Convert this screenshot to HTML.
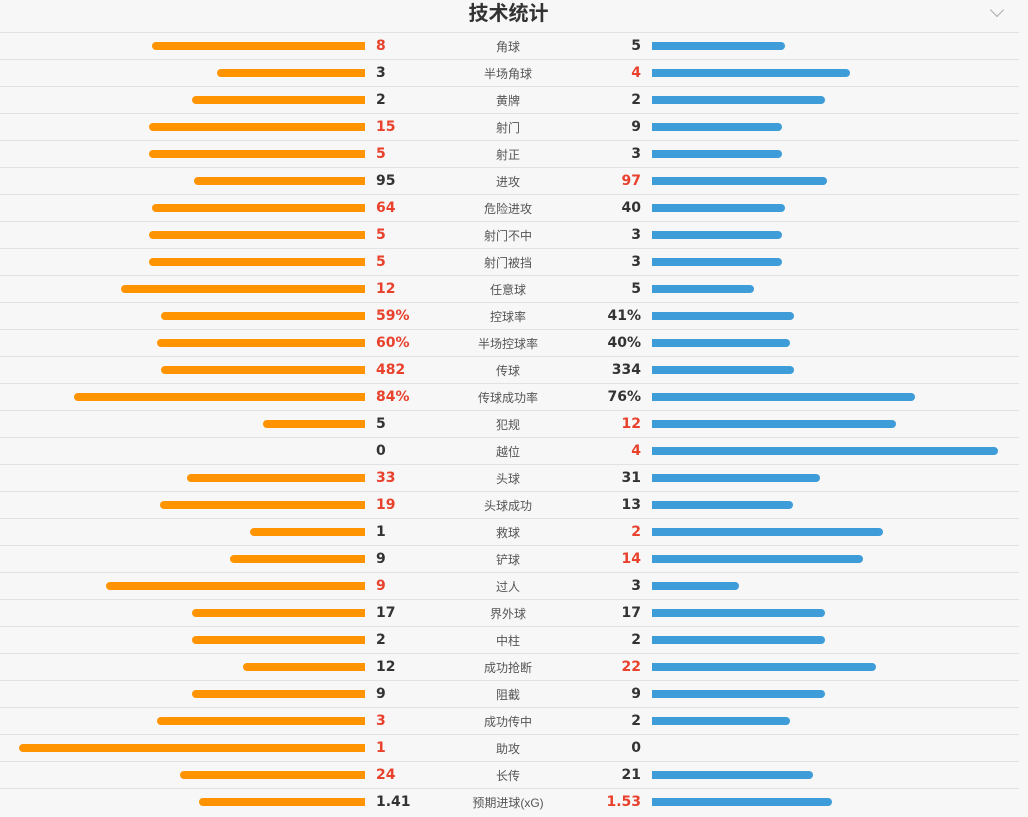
<!DOCTYPE html>
<html><head><meta charset="utf-8"><style>
body{margin:0;width:1028px;height:817px;background:#f7f7f7;font-family:"Liberation Sans","Noto Sans CJK SC",sans-serif;overflow:hidden;position:relative}
#title{position:absolute;left:0;width:1017px;top:0;height:32px;line-height:28px;text-align:center;font-size:20px;font-weight:bold;color:#333}
#chev{position:absolute;left:992px;top:5px;width:9px;height:9px;border-right:1px solid #aaa;border-bottom:1px solid #aaa;transform:rotate(45deg)}
.row{position:absolute;left:0;width:1019px;height:27px;border-top:1px solid #e2e2e2;box-sizing:border-box}
.bl{position:absolute;top:9px;height:8px;background:#ff9400;border-radius:4px 0 0 4px}
.br{position:absolute;top:9px;height:8px;background:#3e9cd8;border-radius:0 4px 4px 0}
.nl{position:absolute;left:376px;top:5px;font-family:"DejaVu Sans",sans-serif;font-size:14px;font-weight:bold;color:#333}
.nr{position:absolute;right:378px;top:5px;font-family:"DejaVu Sans",sans-serif;font-size:14px;font-weight:bold;color:#333;text-align:right}
.lb{position:absolute;left:428px;width:160px;text-align:center;top:5px;font-size:12px;color:#555}
.red{color:#e8412c}
</style></head><body>
<div id="title">技术统计</div>
<div id="chev"></div>
<div id="rows"></div>
<script>
const labels=["角球","半场角球","黄牌","射门","射正","进攻","危险进攻","射门不中","射门被挡","任意球","控球率","半场控球率","传球","传球成功率","犯规","越位","头球","头球成功","救球","铲球","过人","界外球","中柱","成功抢断","阻截","成功传中","助攻","长传","预期进球(xG)"];
const homeVals=[8,3,2,15,5,95,64,5,5,12,59,60,482,84,5,0,33,19,1,9,9,17,2,12,9,3,1,24,1.41];
const awayVals=[5,4,2,9,3,97,40,3,3,5,41,40,334,76,12,4,31,13,2,14,3,17,2,22,9,2,0,21,1.53];
const pctRows=[10,11,13];
const container=document.getElementById('rows');
const MAX=346, MID_L=365, MID_R=652;
labels.forEach((lab,i)=>{
  const h=homeVals[i],a=awayVals[i],tot=h+a;
  const isPct=pctRows.includes(i);
  const fmt=v=>(isPct?v+'%':String(v));
  const row=document.createElement('div');row.className='row';row.style.top=(32+27*i)+'px';
  
  
  const lw=isPct?MAX*h/100:(tot?MAX*h/tot:0), rw=isPct?MAX*a/100:(tot?MAX*a/tot:0);
  if(lw>0){const b=document.createElement('div');b.className='bl';b.style.left=(MID_L-lw)+'px';b.style.width=lw+'px';
  
  row.appendChild(b);}
  if(rw>0){const b=document.createElement('div');b.className='br';b.style.left=MID_R+'px';b.style.width=rw+'px';
  
  row.appendChild(b);}
  const nl=document.createElement('div');nl.className='nl'+(h>a?' red':'');nl.textContent=fmt(h);
  
  row.appendChild(nl);
  const nr=document.createElement('div');nr.className='nr'+(a>h?' red':'');nr.textContent=fmt(a);
  
  row.appendChild(nr);
  const lb=document.createElement('div');lb.className='lb';lb.textContent=lab;
  
  row.appendChild(lb);
  container.appendChild(row);
});
</script>
</body></html>
